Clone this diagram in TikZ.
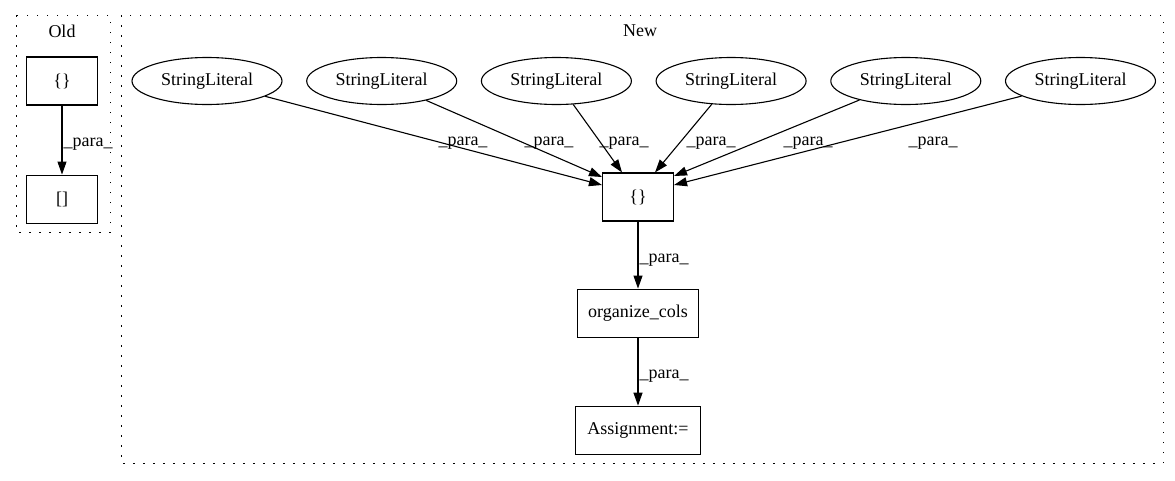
\documentclass[tikz,border=0pt]{standalone}
\usepackage{fontspec}
\setmainfont{Liberation Serif}
\usetikzlibrary{shapes,arrows.meta,positioning}

\tikzset{
  lit/.style={draw, ellipse, minimum width=150pt, minimum height=47pt, inner sep=0pt},
  op/.style={draw, rectangle, minimum height=48pt, inner sep=0pt},
  arr/.style={-{Triangle[length=13pt,width=9pt]}},
  lbl/.style={anchor=base, inner sep=0pt},
  cluster/.style={line width=1pt, dash pattern=on 1.5pt off 8.5pt}
}

\begin{document}
\begin{tikzpicture}[x=1pt, y=-1pt, line width=1.1pt, font=\fontsize{18}{21}\selectfont]
 \useasboundingbox (0,0) rectangle (1175,480);
% clusters
 \draw[cluster] (16,15) rectangle (110,232);
 \draw[cluster] (121,15) rectangle (1163,463);
 \node (old) at (62,31) {Old};
 \node (new) at (640,31) {New};

% nodes
 \node[op, minimum width=71pt] (o1) at (62,81) {\{\}};
 \node[op, minimum width=71pt, below=69pt of o1] (o2) {[]};

 \node[lit] (s1) at (207,81) {StringLiteral};
 \node[lit, right=23.6pt of s1] (s2) {StringLiteral};%
 \node[lit, right=23.6pt of s2] (s3) {StringLiteral};%
 \node[lit, right=23.6pt of s3] (s4) {StringLiteral};%
 \node[lit, right=23.6pt of s4] (s5) {StringLiteral};%
 \node[lit, right=23.6pt of s5] (s6) {StringLiteral};%
 \node[op, minimum width=71pt] (cb) at (638,197) {\{\}};
 \node[op, minimum width=121pt, below=67pt of cb] (oc) {organize\_cols};
 \node[op, minimum width=125pt, below=68pt of oc] (as) {Assignment:=};

% edges
 \draw[arr] (o1) -- (o2);
 \draw[arr] (s1) -- ([yshift=12pt]cb.west);
 \draw[arr] (s2) -- ([yshift=20pt]cb.west);
 \draw[arr] (s3) -- ([xshift=-16pt]cb.north);
 \draw[arr] (s4) -- ([xshift=17pt]cb.north);
 \draw[arr] (s5) -- ([yshift=21pt]cb.east);
 \draw[arr] (s6) -- ([yshift=12pt]cb.east);
 \draw[arr] (cb) -- (oc);
 \draw[arr] (oc) -- (as);

% edge labels
 \node[lbl, anchor=base west] (p0) at (63,146) {\_para\_};
 \node[lbl] (p1) at (463,145) {\_para\_};
 \node[lbl] (p2) at (549,145) {\_para\_};
 \node[lbl] (p3) at (624,145) {\_para\_};
 \node[lbl] (p4) at (711,145) {\_para\_};
 \node[lbl] (p5) at (808,145) {\_para\_};
 \node[lbl] (p6) at (933,145) {\_para\_};
 \node[lbl, anchor=base west] (p7) at (639,262) {\_para\_};
 \node[lbl, anchor=base west] (p8) at (639,378) {\_para\_};
\end{tikzpicture}
\end{document}
